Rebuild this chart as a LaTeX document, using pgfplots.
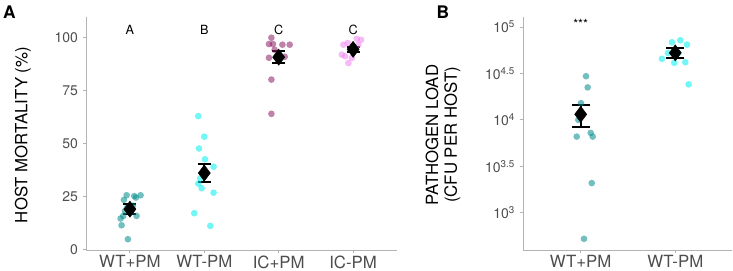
\documentclass[border=0pt]{standalone}
\usepackage{fontspec}
\setmainfont{TeX Gyre Heros}
\usepackage{pgfplots}
\pgfplotsset{compat=1.18}
\definecolor{cA}{HTML}{008B8B}
\definecolor{cB}{HTML}{00EEEE}
\definecolor{cC}{HTML}{8B1C62}
\definecolor{cD}{HTML}{EE82EE}
\definecolor{axgrey}{HTML}{B3B3B3}
\definecolor{tickgrey}{HTML}{4D4D4D}
\pgfplotsset{
  myax/.style={
    scale only axis, clip=false,
    axis lines=left,
    axis line style={-, draw=axgrey, line width=0.6pt},
    tick align=outside, major tick length=2.5pt,
    tick style={draw=axgrey, line width=0.6pt},
    yticklabel style={font=\fontsize{10.5}{12}\selectfont, text=tickgrey},
    xticklabel style={font=\fontsize{12.6}{14}\selectfont, text=tickgrey, inner sep=1.5pt},
    /pgf/number format/assume math mode=true,
    xtick={1,2,3,4},
  },
  pts/.style={only marks, mark=*, mark size=2.5pt, mark options={draw=#1, draw opacity=0, fill=#1, fill opacity=0.55}},
  means/.style={only marks, mark=diamond*, mark size=6pt, black,
    error bars/.cd, y dir=both, y explicit,
    error bar style={line width=1.5pt, black},
    error mark options={rotate=90, mark size=#1, line width=1.5pt, black}},
}
\begin{document}
\begin{tikzpicture}
\useasboundingbox (0,0) rectangle (549.75pt,203.25pt);
% Panel A
\begin{axis}[myax, at={(64.5pt,15.75pt)}, anchor=south west,
  width=233.25pt, height=174.75pt,
  xmin=0.41, xmax=4.59, ymin=-0.4, ymax=109.8,
  ytick={0,25,50,75,100},
  xticklabels={WT+PM,WT-PM,IC+PM,IC-PM}]
\addplot[pts=cA] coordinates {
 (0.956,25.5) (1.058,25.1) (1.144,25.5) (0.919,23.3) (1.081,24.4)
 (0.875,14.5) (0.910,15.7) (1.090,15.7) (0.888,11.3) (0.973,4.7)
 (0.960,19.5) (1.040,20.5) (1.013,17.5) (0.933,18.0)};
\addplot[pts=cB] coordinates {
 (1.919,62.9) (2.000,53.2) (1.929,47.6) (2.009,42.5) (2.125,39.0)
 (1.919,31.0) (1.964,28.8) (2.125,26.7) (1.865,17.0) (2.081,11.0) (1.946,33.5)};
\addplot[pts=cC] coordinates {
 (2.902,100) (2.869,97) (2.923,97) (3.050,96.7) (3.148,96.7)
 (2.946,94.3) (2.869,90.5) (3.081,91) (2.902,80.2) (2.902,64)};
\addplot[pts=cD] coordinates {
 (4.108,99) (4.050,99.5) (3.869,96.7) (3.929,97.5) (3.892,91.2)
 (3.848,92) (3.937,88) (3.983,90.4) (4.071,96.7) (4.000,95)};
\addplot[means=4.9pt] coordinates {
 (1,18.9) +- (0,2.3)
 (2,36.0) +- (0,4.3)
 (3,90.8) +- (0,2.8)
 (4,94.5) +- (0,1.3)};
\node[font=\fontsize{9.5}{11}\selectfont] at (axis cs:1,103.8) {A};
\node[font=\fontsize{9.5}{11}\selectfont] at (axis cs:2,103.8) {B};
\node[font=\fontsize{9.5}{11}\selectfont] at (axis cs:3,103.8) {C};
\node[font=\fontsize{9.5}{11}\selectfont] at (axis cs:4,103.8) {C};
\end{axis}
% Panel B
\begin{axis}[myax, at={(392.25pt,15.75pt)}, anchor=south west,
  width=156.75pt, height=174.75pt,
  xmin=0.39, xmax=2.6, ymin=2.6, ymax=5.107,
  ytick={3,3.5,4,4.5,5},
  yticklabels={10\textsuperscript{3},10\textsuperscript{3.5},10\textsuperscript{4},10\textsuperscript{4.5},10\textsuperscript{5}},
  xtick={1,2},
  xticklabels={WT+PM,WT-PM}]
\addplot[pts=cA] coordinates {
 (1.056,4.47) (1.074,4.35) (1.003,4.18) (0.975,4.00) (0.958,3.82)
 (1.106,3.86) (1.127,3.82) (1.117,3.32) (1.035,2.72)};
\addplot[pts=cB] coordinates {
 (1.859,4.657) (1.923,4.72) (1.965,4.835) (2.053,4.857) (2.124,4.81)
 (1.989,4.614) (2.106,4.62) (2.141,4.382) (2.032,4.72)};
\addplot[means=6.75pt] coordinates {
 (1,4.06) += (0,0.097) -= (0,0.132)
 (2,4.721) += (0,0.049) -= (0,0.053)};
\node[font=\fontsize{9.5}{11}\selectfont] at (axis cs:1,5.03) {***};
\end{axis}
% Labels
\node[font=\fontsize{12.6}{14}\selectfont, rotate=90] at (17.25pt,102pt) {HOST MORTALITY (\%)};
\node[font=\fontsize{12.6}{14}\selectfont, rotate=90, align=center] at (332.25pt,102pt) {PATHOGEN LOAD\\(CFU PER HOST)};
\node[font=\fontsize{13}{15}\selectfont\bfseries] at (7.1pt,194.25pt) {A};
\node[font=\fontsize{13}{15}\selectfont\bfseries] at (332.25pt,194.25pt) {B};
\end{tikzpicture}
\end{document}
